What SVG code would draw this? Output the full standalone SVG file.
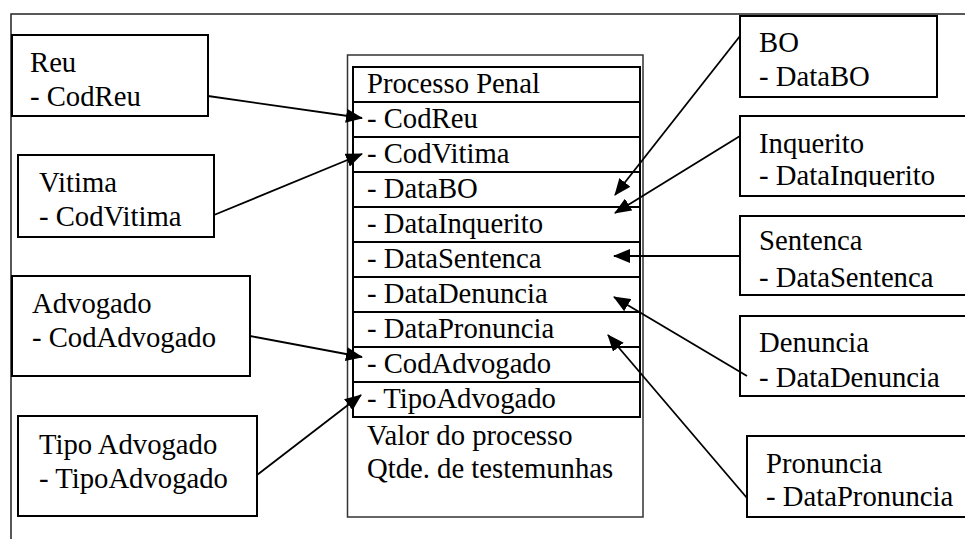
<svg xmlns="http://www.w3.org/2000/svg" width="965" height="539" viewBox="0 0 965 539">
<style>
.box{fill:#fff;stroke:#000;stroke-width:2}
.t{font-family:"Liberation Serif","Times New Roman",serif;font-size:28.7px;fill:#000}
.row{fill:none;stroke:#000;stroke-width:2}
.con{stroke:#000;stroke-width:1.8;fill:none;marker-end:url(#ah)}
.frame{stroke:#222;stroke-width:1.5;fill:none}
</style>
<defs>
<marker id="ah" markerUnits="userSpaceOnUse" markerWidth="17" markerHeight="14" refX="16" refY="7" orient="auto">
<path d="M0,0 L17,7 L0,14 z" fill="#000"/>
</marker>
<clipPath id="clipInq"><rect x="740" y="116" width="225" height="71"/></clipPath>
</defs>
<rect width="965" height="539" fill="#fff"/>
<path class="frame" d="M11,539 V14 H965"/>

<g id="processo">
<rect x="347.5" y="55" width="295.5" height="462" fill="#fff" stroke="#333" stroke-width="1.5"/>
<rect class="row" x="353" y="67" width="287" height="350"/>
<path class="row" d="M353,102H640M353,137H640M353,172H640M353,207H640M353,242H640M353,277H640M353,312H640M353,347H640M353,382H640"/>
<text class="t" x="367" y="93">Processo Penal</text>
<text class="t" x="367" y="128">- CodReu</text>
<text class="t" x="367" y="163">- CodVitima</text>
<text class="t" x="367" y="198">- DataBO</text>
<text class="t" x="367" y="233">- DataInquerito</text>
<text class="t" x="367" y="268">- DataSentenca</text>
<text class="t" x="367" y="303">- DataDenuncia</text>
<text class="t" x="367" y="338">- DataPronuncia</text>
<text class="t" x="367" y="373">- CodAdvogado</text>
<text class="t" x="367" y="408">- TipoAdvogado</text>
<text class="t" x="367" y="445">Valor do processo</text>
<text class="t" x="367" y="478">Qtde. de testemunhas</text>
</g>

<g id="reu">
<rect class="box" x="12" y="35" width="196" height="81"/>
<text class="t" x="30" y="72">Reu</text>
<text class="t" x="30" y="106">- CodReu</text>
</g>
<g id="vitima">
<rect class="box" x="18" y="155" width="196" height="82"/>
<text class="t" x="39" y="192">Vitima</text>
<text class="t" x="39" y="226">- CodVitima</text>
</g>
<g id="advogado">
<rect class="box" x="12" y="276" width="238" height="100"/>
<text class="t" x="32" y="313">Advogado</text>
<text class="t" x="32" y="347">- CodAdvogado</text>
</g>
<g id="tipoadvogado">
<rect class="box" x="18" y="416" width="239" height="100"/>
<text class="t" x="39" y="454">Tipo Advogado</text>
<text class="t" x="39" y="488">- TipoAdvogado</text>
</g>
<g id="bo">
<rect class="box" x="740" y="16" width="197" height="81"/>
<text class="t" x="759" y="52">BO</text>
<text class="t" x="759" y="86">- DataBO</text>
</g>
<g id="inquerito">
<rect class="box" x="740" y="116" width="240" height="80"/>
<text class="t" x="759" y="153">Inquerito</text>
<text class="t" x="759" y="185" clip-path="url(#clipInq)">- DataInquerito</text>
</g>
<g id="sentenca">
<rect class="box" x="740" y="216" width="240" height="79"/>
<text class="t" x="759" y="250">Sentenca</text>
<text class="t" x="759" y="287">- DataSentenca</text>
</g>
<g id="denuncia">
<rect class="box" x="740" y="316" width="240" height="80"/>
<text class="t" x="759" y="352">Denuncia</text>
<text class="t" x="759" y="387">- DataDenuncia</text>
</g>
<g id="pronuncia">
<rect class="box" x="747" y="436" width="240" height="81"/>
<text class="t" x="766" y="473">Pronuncia</text>
<text class="t" x="766" y="506">- DataPronuncia</text>
</g>

<g id="connectors">
<line class="con" x1="208" y1="96" x2="362" y2="118"/>
<line class="con" x1="214" y1="215" x2="362" y2="154"/>
<line class="con" x1="740" y1="36" x2="615" y2="195"/>
<line class="con" x1="740" y1="136" x2="615" y2="213"/>
<line class="con" x1="740" y1="256" x2="614" y2="256"/>
<line class="con" x1="747" y1="376" x2="614" y2="297"/>
<line class="con" x1="747" y1="498" x2="608" y2="335"/>
<line class="con" x1="250" y1="336" x2="362" y2="357"/>
<line class="con" x1="257" y1="475" x2="361" y2="395"/>
</g>
</svg>
